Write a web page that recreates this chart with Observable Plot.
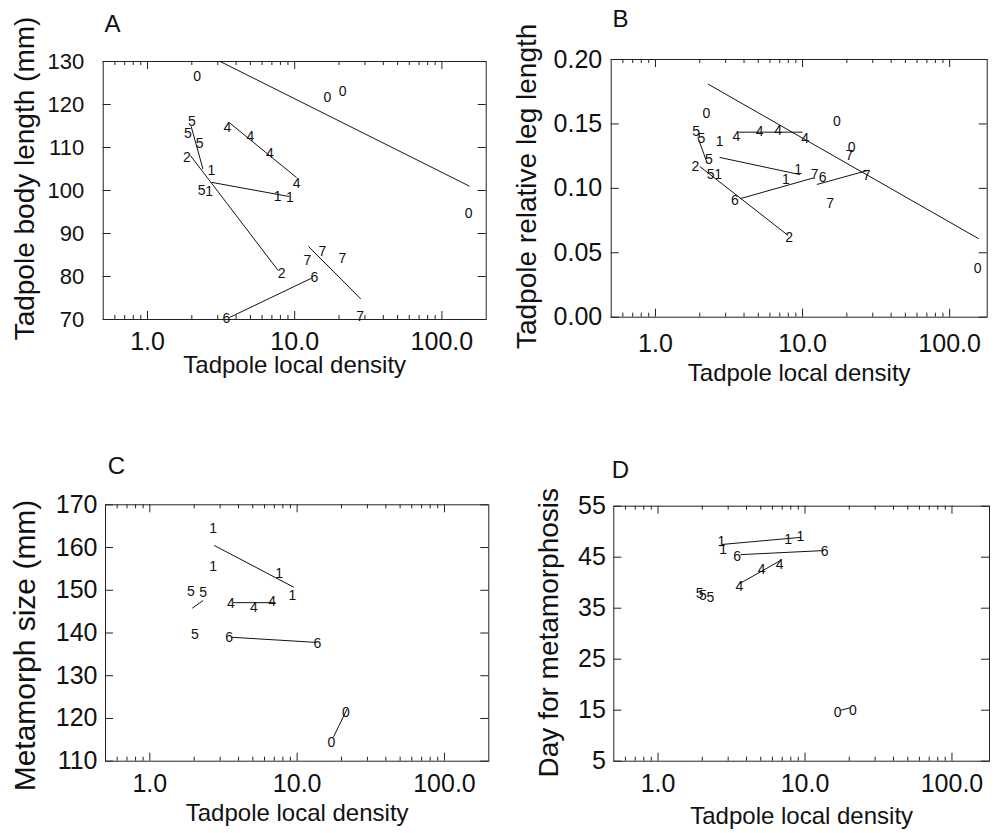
<!DOCTYPE html>
<html><head><meta charset="utf-8">
<script src="https://cdn.jsdelivr.net/npm/d3@7"></script>
<script src="https://cdn.jsdelivr.net/npm/@observablehq/plot@0.6"></script>
<style>
html,body{margin:0;padding:0;background:#fff;}
#fig{position:relative;width:998px;height:833px;overflow:hidden;background:#fff;}
#fig > div{position:absolute;}
</style></head><body><div id="fig"></div>
<script>
const FONT = '"Liberation Sans", Arial, Helvetica, sans-serif';

// shared x axis
const densityTicks = [1, 10, 100];
const densityTickLabels = ["1.0", "10.0", "100.0"];
const densityLabel = "Tadpole local density";

// y ticks
const bodyLengthTicks = [70, 80, 90, 100, 110, 120, 130];
const legTicks = [0, 0.05, 0.10, 0.15, 0.20];
const legTickLabels = ["0.00", "0.05", "0.10", "0.15", "0.20"];
const sizeTicks = [110, 120, 130, 140, 150, 160, 170];
const dayTicks = [5, 15, 25, 35, 45, 55];

// Panel A: [group label, density, body length]
const bodyLengthPts = [
  ["0", 2.17, 126.6], ["0", 16.7, 121.6], ["0", 21.2, 123.1], ["0", 152, 94.6],
  ["5", 2.0, 116.0], ["5", 1.88, 113.3], ["5", 2.26, 110.9], ["5", 2.33, 100.1],
  ["1", 2.62, 99.8], ["1", 2.72, 104.7], ["1", 7.65, 98.7], ["1", 9.27, 98.4],
  ["2", 1.85, 107.6], ["2", 8.14, 80.6],
  ["4", 3.49, 114.6], ["4", 5.0, 112.6], ["4", 6.78, 108.5], ["4", 10.3, 101.6],
  ["7", 12.2, 83.7], ["7", 15.4, 85.7], ["7", 21.1, 84.1], ["7", 27.8, 70.7],
  ["6", 13.6, 79.7], ["6", 3.44, 70.3]
];
// fitted segments: [group, x1, y1, x2, y2]
const bodyLengthFits = [
  ["0", 2.17, 132.7, 154, 101.0],
  ["5", 1.98, 114.9, 2.38, 105.0],
  ["2", 1.96, 108.1, 7.72, 81.4],
  ["1", 2.72, 101.9, 9.17, 98.6],
  ["4", 3.62, 115.7, 10.3, 103.0],
  ["7", 12.4, 87.0, 28.1, 74.8],
  ["6", 3.62, 70.5, 13.0, 79.6]
];

// Panel B: relative leg length
const legPts = [
  ["0", 2.22, 0.158], ["0", 17.1, 0.152], ["0", 21.6, 0.1315], ["7", 20.8, 0.1255], ["0", 155, 0.038],
  ["5", 1.89, 0.144], ["5", 2.05, 0.139], ["5", 2.31, 0.122], ["5", 2.37, 0.111], ["1", 2.67, 0.111],
  ["2", 1.87, 0.117], ["2", 8.1, 0.0616],
  ["1", 2.73, 0.136], ["1", 7.7, 0.107], ["1", 9.33, 0.115],
  ["4", 3.55, 0.140], ["4", 5.11, 0.144], ["4", 6.82, 0.145], ["4", 10.4, 0.139],
  ["7", 12.1, 0.111], ["6", 13.7, 0.1087], ["7", 27.3, 0.110], ["7", 15.4, 0.088],
  ["6", 3.46, 0.0906]
];
const legFits = [
  ["0", 2.27, 0.181, 157, 0.061],
  ["5", 1.94, 0.1397, 2.24, 0.120],
  ["2", 2.0, 0.117, 7.98, 0.0634],
  ["1", 2.73, 0.124, 9.58, 0.1107],
  ["4", 3.7, 0.1436, 10.0, 0.1436],
  ["6", 3.74, 0.0919, 11.8, 0.108],
  ["7", 12.5, 0.103, 28, 0.114]
];

// Panel C: metamorph size
const sizePts = [
  ["1", 2.69, 164.5], ["1", 2.69, 155.6], ["1", 7.55, 153.9], ["1", 9.3, 148.8],
  ["5", 1.9, 149.8], ["5", 2.3, 149.5], ["5", 2.02, 139.6],
  ["4", 3.55, 147.0], ["4", 5.08, 145.9], ["4", 6.77, 147.4],
  ["6", 3.45, 138.9], ["6", 13.7, 137.6],
  ["0", 21.4, 121.5], ["0", 17.1, 114.4]
];
const sizeFits = [
  ["1", 2.73, 160.5, 9.5, 150.7],
  ["5", 1.94, 145.8, 2.3, 147.6],
  ["4", 3.68, 147.1, 7.13, 147.1],
  ["6", 3.59, 139.0, 13.5, 137.8],
  ["0", 17.6, 115.6, 21.9, 122.3]
];

// Panel D: day for metamorphosis
const dayPts = [
  ["1", 2.7, 48.1], ["1", 2.77, 46.6], ["1", 7.69, 48.5], ["1", 9.31, 49.1],
  ["6", 3.45, 45.1], ["6", 13.6, 46.1],
  ["4", 3.58, 39.3], ["4", 5.06, 42.6], ["4", 6.73, 43.5],
  ["5", 1.92, 37.8], ["5", 2.02, 37.5], ["5", 2.27, 37.0],
  ["0", 16.7, 14.5], ["0", 21.2, 14.9]
];
const dayFits = [
  ["1", 2.73, 47.5, 9.42, 48.9],
  ["6", 3.64, 45.5, 13.4, 46.3],
  ["4", 3.58, 39.8, 6.81, 44.35],
  ["0", 17.6, 15.0, 20.4, 15.5]
];

function minorTicks([lo, hi]) {
  const out = [];
  for (const d of [0.1, 1, 10, 100]) {
    for (let k = 2; k <= 9; k++) {
      const v = +(k * d).toPrecision(3);
      if (v > lo * 1.001 && v < hi * 0.999) out.push(v);
    }
  }
  return out;
}

function panel(o) {
  const iw = o.width - o.ml - o.mr, ih = o.height - o.mt - o.mb;
  const minor = minorTicks(o.xDomain);
  const major = densityTicks;
  const ink = "#222";
  return Plot.plot({
    width: o.width, height: o.height,
    marginLeft: o.ml, marginRight: o.mr, marginTop: o.mt, marginBottom: o.mb,
    x: {type: "log", domain: o.xDomain, axis: null},
    y: {type: "linear", domain: o.yDomain, axis: null},
    style: {fontFamily: FONT, background: "white", color: "#111", overflow: "visible"},
    marks: [
      Plot.frame({stroke: ink, strokeWidth: 1}),
      Plot.tickX(major, {x: d => d, insetTop: ih - 8, stroke: ink}),
      Plot.tickX(major, {x: d => d, insetBottom: ih - 8, stroke: ink}),
      Plot.tickX(minor, {x: d => d, insetTop: ih - 4, stroke: ink}),
      Plot.tickX(minor, {x: d => d, insetBottom: ih - 4, stroke: ink}),
      Plot.tickY(o.yTicks, {y: d => d, insetRight: iw - 8, stroke: ink}),
      Plot.tickY(o.yTicks, {y: d => d, insetLeft: iw - 8, stroke: ink}),
      Plot.axisX(major, {anchor: "bottom", tickSize: 0, tickPadding: o.xPad,
        tickFormat: d => densityTickLabels[major.indexOf(d)], fontSize: 25, label: null, fill: "#111"}),
      Plot.axisY(o.yTicks, {anchor: "left", tickSize: 0, tickPadding: o.yPad,
        tickFormat: o.yFmt, fontSize: o.yTickSize, label: null, fill: "#111"}),
      Plot.link(o.fits, {x1: d => d[1], y1: d => d[2], x2: d => d[3], y2: d => d[4],
        stroke: "#111", strokeWidth: 1, clip: true}),
      Plot.text(o.pts, {x: d => d[1], y: d => d[2], text: d => d[0], fontSize: 14, fill: "#111"}),
      Plot.text([densityLabel], {frameAnchor: "bottom", textAnchor: "middle", lineAnchor: "middle",
        dy: o.xLabDy, fontSize: 24, fill: "#111"}),
      Plot.text([o.yLabel], {frameAnchor: "left", textAnchor: "middle", lineAnchor: "middle", rotate: -90,
        dx: o.yLabDx, dy: o.yLabDy, fontSize: o.yLabSize, fill: "#111"}),
      Plot.text([o.letter], {frameAnchor: "top-left", textAnchor: "middle", lineAnchor: "middle",
        dx: o.letDx, dy: o.letDy, fontSize: 24, fill: "#111"})
    ]
  });
}

const panels = [
  {left: 0, top: 0, width: 499, height: 416, ml: 102.7, mr: 13.3, mt: 61, mb: 97,
   xDomain: [0.5, 200], yDomain: [70, 130], yTicks: bodyLengthTicks, yFmt: d => String(d), yTickSize: 22,
   pts: bodyLengthPts, fits: bodyLengthFits, xPad: 13, yPad: 19, xLabDy: 46,
   yLabel: "Tadpole body length (mm)", yLabDx: -77.7, yLabDy: -12, yLabSize: 28,
   letter: "A", letDx: 9.3, letDy: -37},
  {left: 499, top: 0, width: 499, height: 416, ml: 111.7, mr: 11.3, mt: 59, mb: 99.3,
   xDomain: [0.5, 180], yDomain: [0, 0.2], yTicks: legTicks, yFmt: d => legTickLabels[legTicks.indexOf(d)], yTickSize: 25,
   pts: legPts, fits: legFits, xPad: 17, yPad: 9, xLabDy: 56,
   yLabel: "Tadpole relative leg length", yLabDx: -83.7, yLabDy: -2, yLabSize: 28,
   letter: "B", letDx: 9.3, letDy: -40},
  {left: 0, top: 416, width: 499, height: 417, ml: 105, mr: 10.7, mt: 88.3, mb: 72.3,
   xDomain: [0.5, 200], yDomain: [110, 170], yTicks: sizeTicks, yFmt: d => String(d), yTickSize: 25,
   pts: sizePts, fits: sizeFits, xPad: 13, yPad: 8, xLabDy: 52,
   yLabel: "Metamorph size (mm)", yLabDx: -80.6, yLabDy: 12.5, yLabSize: 30,
   letter: "C", letDx: 11, letDy: -38.8},
  {left: 499, top: 416, width: 499, height: 417, ml: 114.3, mr: 9, mt: 89.7, mb: 72.3,
   xDomain: [0.5, 180], yDomain: [5, 55], yTicks: dayTicks, yFmt: d => String(d), yTickSize: 25,
   pts: dayPts, fits: dayFits, xPad: 13, yPad: 8, xLabDy: 55,
   yLabel: "Day for metamorphosis", yLabDx: -64.3, yLabDy: -1, yLabSize: 28,
   letter: "D", letDx: 6.7, letDy: -36}
];

const fig = document.getElementById("fig");
for (const p of panels) {
  const div = document.createElement("div");
  div.style.left = p.left + "px";
  div.style.top = p.top + "px";
  div.appendChild(panel(p));
  fig.appendChild(div);
}
</script></body></html>
